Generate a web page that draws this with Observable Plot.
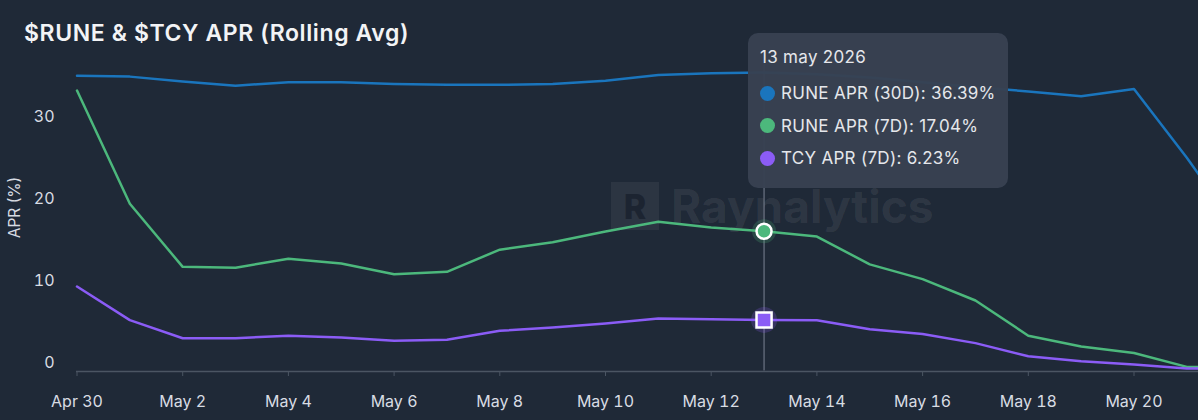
<!DOCTYPE html>
<html>
<head>
<meta charset="utf-8">
<script src="https://cdn.jsdelivr.net/npm/d3@7"></script>
<script src="https://cdn.jsdelivr.net/npm/@observablehq/plot@0.6"></script>
<style>
  html, body { margin: 0; padding: 0; }
  body { width: 1198px; height: 420px; overflow: hidden; background: #1f2937; position: relative; font-family: Inter, "Noto Sans", sans-serif; }
  #title { position: absolute; left: 24px; top: 19px; font-size: 23px; line-height: 28px; font-weight: 600; color: #f3f4f6; white-space: nowrap; letter-spacing: 0.6px; z-index: 3; }
  #wm { position: absolute; left: 611px; top: 182px; height: 48px; display: flex; align-items: center; z-index: 0; }
  #wm .box { width: 48px; height: 48px; background: rgba(255,255,255,0.06); display: flex; align-items: center; justify-content: center; font-weight: 800; font-size: 34px; color: #1c2431; }
  #wm .txt { margin-left: 12px; font-size: 46px; font-weight: 700; color: rgba(255,255,255,0.075); }
  #chart { position: absolute; left: 0; top: 56px; z-index: 1; }
  #tip { position: absolute; left: 748px; top: 33px; width: 260px; height: 155px; background: rgba(56,65,82,0.97); border-radius: 10px; z-index: 2; color: #e5e7eb; font-size: 17px; letter-spacing: 0.3px; }
  #tip .date { position: absolute; left: 12px; top: 14px; }
  #tip .row { position: absolute; left: 12px; display: flex; align-items: center; white-space: nowrap; }
  #tip .dot { width: 15px; height: 15px; border-radius: 50%; margin-right: 6px; }
</style>
</head>
<body>
<div id="title">$RUNE &amp; $TCY APR (Rolling Avg)</div>
<div id="wm"><div class="box">R</div><div class="txt">Raynalytics</div></div>
<div id="chart"></div>
<div id="tip"></div>
<script>
const dates = ["2026-04-30","2026-05-01","2026-05-02","2026-05-03","2026-05-04","2026-05-05","2026-05-06","2026-05-07","2026-05-08","2026-05-09","2026-05-10","2026-05-11","2026-05-12","2026-05-13","2026-05-14","2026-05-15","2026-05-16","2026-05-17","2026-05-18","2026-05-19","2026-05-20","2026-05-21","2026-05-22"];
const rune30 = [36.0,35.9,35.3,34.8,35.2,35.2,35.0,34.9,34.9,35.0,35.4,36.1,36.3,36.39,36.2,35.8,35.2,34.6,34.1,33.5,34.4,26.0,17.0];
const rune7  = [34.2,20.4,12.7,12.6,13.7,13.1,11.8,12.1,14.8,15.7,17.0,18.2,17.5,17.04,16.4,13.0,11.2,8.6,4.3,3.0,2.2,0.5,0.4];
const tcy7   = [10.3,6.2,4.0,4.0,4.3,4.1,3.7,3.8,4.9,5.3,5.8,6.4,6.3,6.23,6.2,5.1,4.5,3.4,1.8,1.2,0.8,0.3,0.3];
const seriesNames = ["RUNE APR (30D)","RUNE APR (7D)","TCY APR (7D)"];
const seriesColors = ["#1a75bd","#4cb87c","#8b5cf6"];
const yTicks = [0,10,20,30];
const xTickDates = ["2026-04-30","2026-05-02","2026-05-04","2026-05-06","2026-05-08","2026-05-10","2026-05-12","2026-05-14","2026-05-16","2026-05-18","2026-05-20"];
const focusDate = "2026-05-13";
const focusLabel = "13 may 2026";
const yLabel = "APR (%)";

const parse = d3.utcParse("%Y-%m-%d");
const allValues = [rune30, rune7, tcy7];
const data = [];
allValues.forEach((vals, si) => vals.forEach((v, i) => data.push({date: parse(dates[i]), value: v, series: seriesNames[si]})));
const fIdx = dates.indexOf(focusDate);
const fDate = parse(focusDate);

const W = 1198, H = 364;
const x0 = 76.5, pxPerDay = 52.85;
const nDays = dates.length - 1;
const y0 = 314.5, pxPerUnit = 8.2;

const plot = Plot.plot({
  width: W, height: H,
  marginLeft: 76, marginRight: 0, marginTop: 0, marginBottom: 49,
  style: {background: "transparent", color: "#d5d9e0", fontSize: "16px", fontFamily: "Inter, 'Noto Sans', sans-serif", overflow: "hidden"},
  x: {type: "utc", domain: [parse(dates[0]), parse(dates[dates.length-1])], range: [x0, x0 + nDays*pxPerDay]},
  y: {domain: [0, 40], range: [y0, y0 - 40*pxPerUnit]},
  color: {domain: seriesNames, range: seriesColors},
  marks: [
    Plot.ruleX([fDate], {y1: 0, y2: 40, stroke: "#7b8494", strokeWidth: 1}),
    Plot.ruleY([0], {stroke: "#4b5563", strokeWidth: 1.5, dy: 0.5}),
    Plot.axisX({ticks: xTickDates.map(parse), tickFormat: d3.utcFormat("%b %-d"), tickSize: 5, stroke: "#4b5563", tickPadding: 19, fill: "#d8dce3", label: null}),
    Plot.axisY({ticks: yTicks, tickSize: 0, tickPadding: 22, dy: -8.5, fill: "#d8dce3", label: null}),
    Plot.text([yLabel], {frameAnchor: "left", textAnchor: "middle", rotate: -90, dx: -61, dy: -6.5, fill: "#d8dce3", fontSize: 15.5}),
    Plot.line(data, {x: "date", y: "value", z: "series", stroke: "series", strokeWidth: 2.5, curve: "linear"}),
    Plot.dot([{date: fDate, value: rune7[fIdx]}], {x: "date", y: "value", r: 12, fill: seriesColors[1], fillOpacity: 0.22, stroke: "none"}),
    Plot.dot([{date: fDate, value: rune7[fIdx]}], {x: "date", y: "value", r: 7.5, fill: seriesColors[1], stroke: "white", strokeWidth: 2.5}),
    Plot.dot([{date: fDate, value: tcy7[fIdx]}], {x: "date", y: "value", r: 13, fill: seriesColors[2], fillOpacity: 0.22, stroke: "none"}),
    Plot.dot([{date: fDate, value: tcy7[fIdx]}], {x: "date", y: "value", symbol: "square", r: 8.5, fill: seriesColors[2], stroke: "white", strokeWidth: 2.5})
  ]
});
document.getElementById("chart").appendChild(plot);

const tip = document.getElementById("tip");
const dt = document.createElement("div");
dt.className = "date"; dt.textContent = focusLabel; tip.appendChild(dt);
const fmt = v => v.toFixed(2) + "%";
allValues.forEach((vals, si) => {
  const row = document.createElement("div");
  row.className = "row";
  row.style.top = (50 + si*32.5) + "px";
  const dot = document.createElement("span");
  dot.className = "dot"; dot.style.background = seriesColors[si];
  const t = document.createElement("span");
  t.textContent = seriesNames[si] + ": " + fmt(vals[fIdx]);
  row.appendChild(dot); row.appendChild(t);
  tip.appendChild(row);
});
</script>
</body>
</html>
